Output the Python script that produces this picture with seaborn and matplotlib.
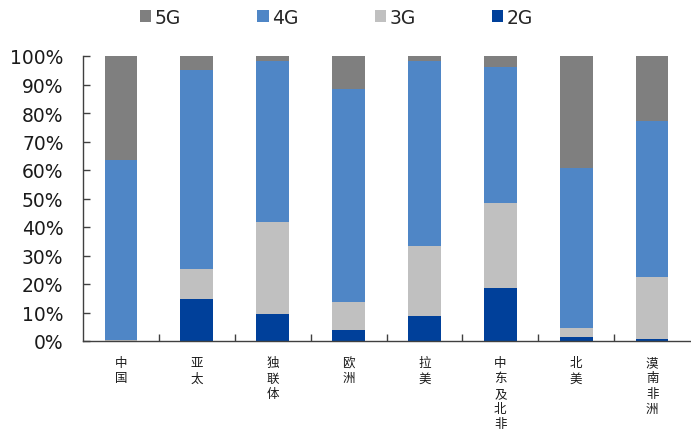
import matplotlib
matplotlib.use("Agg")
import matplotlib.pyplot as plt
import seaborn as sns
import pandas as pd
import numpy as np
from matplotlib.patches import Patch
from matplotlib.ticker import FixedLocator, PercentFormatter

categories = ['中国', '亚太', '独联体', '欧洲', '拉美', '中东及北非', '北美', '漠南非洲']
g2 = [0.1, 14.6, 9.5, 3.7, 8.7, 18.7, 1.4, 0.7]
g3 = [0.4, 10.7, 32.2, 9.9, 24.8, 29.6, 3.3, 21.9]
g4 = [63.1, 69.7, 56.6, 74.7, 64.8, 47.9, 55.9, 54.6]
g5 = [36.4, 5.0, 1.7, 11.7, 1.7, 3.8, 39.4, 22.8]
series = ['5G', '4G', '3G', '2G']
colors = {'5G': '#7f7f7f', '4G': '#4f86c6', '3G': '#c0c0c0', '2G': '#00409a'}

sns.set_theme(style="white")
plt.rcParams['font.family'] = ['DejaVu Sans', 'Noto Sans CJK SC']

df = pd.DataFrame({'cat': categories, '2G': g2, '3G': g3, '4G': g4, '5G': g5})
df['c2'] = df['2G']
df['c3'] = df['c2'] + df['3G']
df['c4'] = df['c3'] + df['4G']
df['c5'] = df['c4'] + df['5G']

fig = plt.figure(figsize=(6.91, 4.35), dpi=100)
ax = fig.add_axes([83/691, 93/435, 607/691, 285/435])

for col, s in [('c5', '5G'), ('c4', '4G'), ('c3', '3G'), ('c2', '2G')]:
    sns.barplot(data=df, x='cat', y=col, color=colors[s], width=0.43,
                saturation=1, ax=ax, linewidth=0, order=categories)

ax.set_xlim(-0.5, len(categories) - 0.5)
ax.set_ylim(0, 100)
ax.set_xlabel('')
ax.set_ylabel('')
ax.yaxis.set_major_locator(FixedLocator(np.arange(0, 101, 10)))
ax.yaxis.set_major_formatter(PercentFormatter(decimals=0))
ax.tick_params(axis='y', direction='in', length=5, width=1, color='#404040',
               labelsize=13.5, pad=14, left=True, labelcolor='#1a1a1a')
ax.set_xticks(range(len(categories)))
ax.set_xticklabels(['\n'.join(c) for c in categories], family=['Noto Sans CJK SC'],
                   fontsize=9, linespacing=1.22, va='top')
ax.tick_params(axis='x', which='major', length=0, pad=11, labelcolor='#1a1a1a')
ax.set_xticks(np.arange(0.5, len(categories) - 0.5, 1), minor=True)
ax.tick_params(axis='x', which='minor', direction='in', length=5, width=1,
               color='#404040', bottom=True)

for sp in ['top', 'right']:
    ax.spines[sp].set_visible(False)
for sp in ['left', 'bottom']:
    ax.spines[sp].set_color('#404040')
    ax.spines[sp].set_linewidth(1)

handles = [Patch(facecolor=colors[s], edgecolor='none', label=s) for s in series]
fig.legend(handles=handles, loc='center left', bbox_to_anchor=(140/691, 1 - 18/435),
           ncol=4, frameon=False, fontsize=13.5, handlelength=0.6, handleheight=0.6,
           handletextpad=0.2, columnspacing=4.05, borderpad=0, borderaxespad=0)

fig.savefig('out.png', dpi=100)
